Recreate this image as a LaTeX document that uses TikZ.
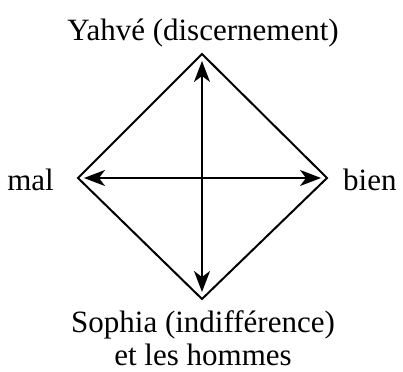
\documentclass[tikz,border=0pt]{standalone}
\usepackage{fontspec}
\setmainfont{Liberation Serif}
\usetikzlibrary{arrows.meta}
\begin{document}
\begin{tikzpicture}[x=1pt,y=-1pt,
  lbl/.style={font=\fontsize{31}{33}\selectfont, inner sep=0pt},
  edge/.style={line width=2pt, line join=miter},
  dbl/.style={line width=2pt, {Stealth[length=21pt,width=16pt,inset=6pt]}-{Stealth[length=21pt,width=16pt,inset=6pt]}}]
\useasboundingbox (0,0) rectangle (403,371);
\coordinate (T) at (202,54);
\coordinate (L) at (78,178);
\coordinate (R) at (327,178);
\coordinate (B) at (202,299);
\draw[edge] (T) -- (R) -- (B) -- (L) -- cycle;
\draw[dbl, shorten <=7pt, shorten >=7pt] (T) -- (B);
\draw[dbl, shorten <=6pt, shorten >=6pt] (L) -- (R);
\node[lbl, anchor=base] (ty) at (203,41) {Yahvé (discernement)};
\node[lbl, anchor=base east] (tm) at (54,190) {mal};
\node[lbl, anchor=base west] (tb) at (343,190) {bien};
\node[lbl, anchor=base, align=center] (ts) at (203,365) {Sophia (indifférence)\\et les hommes};
\end{tikzpicture}
\end{document}
